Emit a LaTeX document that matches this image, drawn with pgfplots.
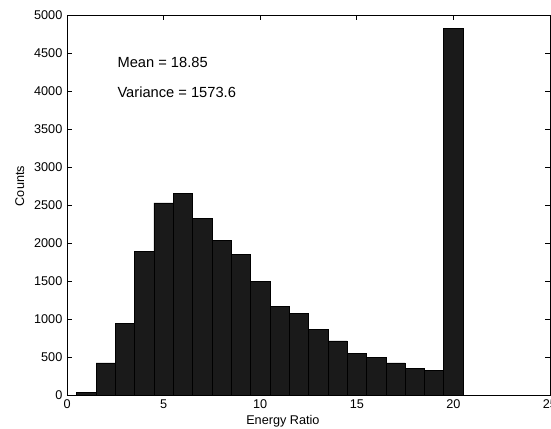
\documentclass[border=0pt]{standalone}
\usepackage{pgfplots}
\pgfplotsset{compat=1.18}
\usepackage{fontspec}
\setmainfont{Liberation Sans}
\definecolor{barfill}{HTML}{1A1A1A}

\begin{document}
\begin{tikzpicture}
    \begin{axis}[
        name=ax,
        width=362pt,
        height=285pt,
        scale only axis,
        xmin=0, xmax=25,
        ymin=0, ymax=5000,
        xtick={0,5,...,25},
        ytick={0,500,...,5000},
        tick align=inside,
        tick pos=both,
        scaled y ticks=false,
        /pgf/number format/1000 sep={},
        /pgf/number format/assume math mode=true,
        ticklabel style={font=\fontsize{9.5pt}{11pt}\selectfont},
        label style={font=\fontsize{9.5pt}{11pt}\selectfont},
        xlabel={Energy Ratio},
        ylabel={Counts},
        xlabel style={at={(axis description cs:0.447,-0.052)}, anchor=north, inner sep=0pt},
        ylabel style={at={(axis description cs:-0.088,0.55)}, anchor=south, inner sep=0pt},
        axis line style={line width=0.5pt},
        tick style={black, line width=0.5pt, major tick length=4pt},
        clip=false
    ]
    \addplot[
        ybar,
        bar width=1,
        fill=barfill,
        draw=black,
        line width=0.4pt,
    ] coordinates {
        (1, 40)
        (2, 425)
        (3, 945)
        (4, 1890)
        (5, 2530)
        (6, 2650)
        (7, 2325)
        (8, 2040)
        (9, 1850)
        (10, 1495)
        (11, 1170)
        (12, 1075)
        (13, 870)
        (14, 715)
        (15, 555)
        (16, 495)
        (17, 425)
        (18, 350)
        (19, 325)
        (20, 4820)
    };
    \node[anchor=west, inner sep=0pt, font=\fontsize{11pt}{13pt}\selectfont] at (axis cs:2.6,4370) {Mean = 18.85};
    \node[anchor=west, inner sep=0pt, font=\fontsize{11pt}{13pt}\selectfont] at (axis cs:2.6,3990) {Variance = 1573.6};
    \end{axis}
    \pgfresetboundingbox
    \useasboundingbox ([xshift=-50.25pt,yshift=-24.75pt]ax.south west) rectangle ([xshift=0.75pt,yshift=11.25pt]ax.north east);
\end{tikzpicture}
\end{document}
